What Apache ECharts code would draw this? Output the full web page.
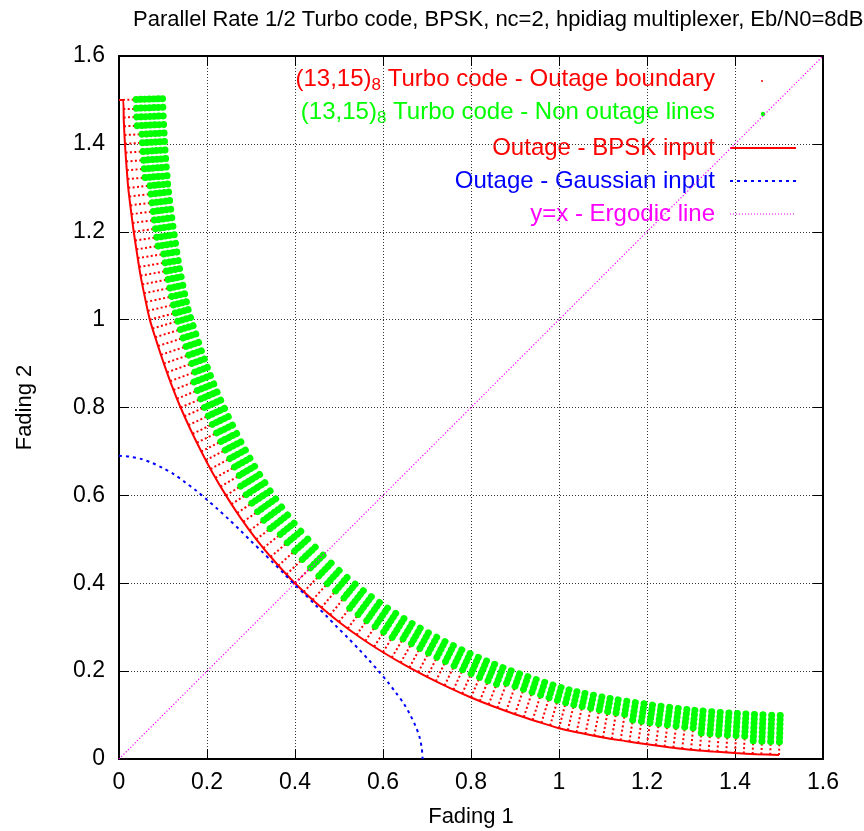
<!DOCTYPE html>
<html>
<head>
<meta charset="utf-8">
<title>Parallel Rate 1/2 Turbo code outage</title>
<script src="https://cdn.jsdelivr.net/npm/echarts@6/dist/echarts.min.js"></script>
<style>
  html, body { margin: 0; padding: 0; background: #ffffff; }
  #chart { width: 864px; height: 831px; }
</style>
</head>
<body>
<div id="chart"></div>
<script>
// ---- data -----------------------------------------------------------------
const titleText = 'Parallel Rate 1/2 Turbo code, BPSK, nc=2, hpidiag multiplexer, Eb/N0=8dB';
const xAxisName = 'Fading 1';
const yAxisName = 'Fading 2';
const tickValues = [0, 0.2, 0.4, 0.6, 0.8, 1, 1.2, 1.4, 1.6];
const tickLabels = ['0', '0.2', '0.4', '0.6', '0.8', '1', '1.2', '1.4', '1.6'];

const seriesNames = [
  '(13,15){s|8} Turbo code - Outage boundary',
  '(13,15){s|8} Turbo code - Non outage lines',
  'Outage - BPSK input',
  'Outage - Gaussian input',
  'y=x - Ergodic line'
];

// Each scan line runs from the BPSK outage curve outwards:
// outageStart -> outageBoundary are outage points, outageBoundary -> nonOutageEnd are not.
const outageStart = [
  [0.009,1.50],[0.0098,1.48],[0.0105,1.46],[0.0114,1.44],[0.0124,1.42],[0.0135,1.40],[0.0148,1.38],[0.0162,1.36],
  [0.0177,1.34],[0.0194,1.32],[0.021,1.30],[0.0233,1.28],[0.0257,1.26],[0.0282,1.24],[0.0308,1.22],[0.0335,1.20],
  [0.0364,1.18],[0.0394,1.16],[0.0425,1.14],[0.0457,1.12],[0.049,1.10],[0.0529,1.08],[0.0569,1.06],[0.0611,1.04],
  [0.0655,1.02],[0.07,1.00],[0.0761,0.98],[0.0823,0.96],[0.0888,0.94],[0.0954,0.92],[0.102,0.90],[0.1091,0.88],
  [0.1163,0.86],[0.1239,0.84],[0.1318,0.82],[0.14,0.80],[0.1488,0.78],[0.1578,0.76],[0.1673,0.74],[0.1771,0.72],
  [0.187,0.70],[0.1974,0.68],[0.2081,0.66],[0.2192,0.64],[0.2308,0.62],[0.243,0.60],[0.2556,0.58],[0.2687,0.56],
  [0.2825,0.54],[0.297,0.52],[0.312,0.50],[0.328,0.48],[0.3445,0.46],[0.362,0.44],[0.3805,0.42],[0.40,0.40],
  [0.42,0.3805],[0.44,0.362],[0.46,0.3445],[0.48,0.328],[0.50,0.312],[0.52,0.297],[0.54,0.2825],[0.56,0.2687],
  [0.58,0.2556],[0.60,0.243],[0.62,0.2308],[0.64,0.2192],[0.66,0.2081],[0.68,0.1974],[0.70,0.187],[0.72,0.1771],
  [0.74,0.1673],[0.76,0.1578],[0.78,0.1488],[0.80,0.14],[0.82,0.1318],[0.84,0.1239],[0.86,0.1163],[0.88,0.1091],
  [0.90,0.102],[0.92,0.0954],[0.94,0.0888],[0.96,0.0823],[0.98,0.0761],[1.00,0.07],[1.02,0.0655],[1.04,0.0611],
  [1.06,0.0569],[1.08,0.0529],[1.10,0.049],[1.12,0.0457],[1.14,0.0425],[1.16,0.0394],[1.18,0.0364],[1.20,0.0335],
  [1.22,0.0308],[1.24,0.0282],[1.26,0.0257],[1.28,0.0233],[1.30,0.021],[1.32,0.0194],[1.34,0.0177],[1.36,0.0162],
  [1.38,0.0148],[1.40,0.0135],[1.42,0.0124],[1.44,0.0114],[1.46,0.0105],[1.48,0.0098],[1.50,0.009]
];

const outageBoundary = [
  [0.039,1.501],[0.0398,1.481],[0.0405,1.4612],[0.0414,1.4414],[0.0524,1.4221],[0.0534,1.4024],[0.0547,1.3827],[0.0561,1.3629],
  [0.0576,1.3432],[0.0593,1.3233],[0.0708,1.3049],[0.073,1.2858],[0.0753,1.2661],[0.0778,1.2463],[0.0804,1.2266],[0.083,1.2069],
  [0.0859,1.1873],[0.0888,1.1675],[0.1018,1.1493],[0.1049,1.1296],[0.1081,1.1106],[0.1118,1.0916],[0.1157,1.072],[0.1198,1.0526],
  [0.1239,1.0337],[0.1281,1.0151],[0.1338,0.9964],[0.1397,0.9775],[0.1459,0.9583],[0.1524,0.9388],[0.1588,0.9194],[0.1656,0.9002],
  [0.1726,0.8808],[0.1705,0.8581],[0.1782,0.8387],[0.186,0.8196],[0.1945,0.8003],[0.2032,0.781],[0.2123,0.7617],[0.222,0.7421],
  [0.2316,0.7226],[0.2416,0.7033],[0.252,0.6839],[0.2627,0.6647],[0.2738,0.6456],[0.277,0.6211],[0.2893,0.6016],[0.3019,0.5823],
  [0.3152,0.5631],[0.3292,0.5437],[0.3436,0.5245],[0.3668,0.5115],[0.3826,0.4924],[0.3992,0.4735],[0.4168,0.4544],[0.4354,0.4354],
  [0.4544,0.4168],[0.4735,0.3992],[0.4924,0.3826],[0.5115,0.3668],[0.5245,0.3436],[0.5437,0.3292],[0.5631,0.3152],[0.5823,0.3019],
  [0.6016,0.2893],[0.6211,0.277],[0.6456,0.2738],[0.6647,0.2627],[0.6839,0.252],[0.7033,0.2416],[0.7226,0.2316],[0.7421,0.222],
  [0.7617,0.2123],[0.781,0.2032],[0.8003,0.1945],[0.8196,0.186],[0.8387,0.1782],[0.8581,0.1705],[0.8808,0.1726],[0.9002,0.1656],
  [0.9194,0.1588],[0.9388,0.1524],[0.9583,0.1459],[0.9775,0.1397],[0.9964,0.1338],[1.0151,0.1281],[1.0337,0.1239],[1.0526,0.1198],
  [1.072,0.1157],[1.0916,0.1118],[1.1106,0.1081],[1.1296,0.1049],[1.1493,0.1018],[1.1675,0.0888],[1.1873,0.0859],[1.2069,0.083],
  [1.2266,0.0804],[1.2463,0.0778],[1.2661,0.0753],[1.2858,0.073],[1.3049,0.0708],[1.3233,0.0593],[1.3432,0.0576],[1.3629,0.0561],
  [1.3827,0.0547],[1.4024,0.0534],[1.4221,0.0524],[1.4414,0.0414],[1.4612,0.0405],[1.481,0.0398],[1.501,0.039]
];

const nonOutageEnd = [
  [0.102,1.503],[0.1027,1.4835],[0.1034,1.4637],[0.1043,1.4444],[0.1053,1.4249],[0.1063,1.4056],[0.1076,1.3863],[0.109,1.3667],
  [0.1104,1.3474],[0.1121,1.3276],[0.1136,1.309],[0.1157,1.2909],[0.118,1.2713],[0.1205,1.2518],[0.123,1.2322],[0.1256,1.2129],
  [0.1284,1.1936],[0.1313,1.174],[0.1344,1.1545],[0.1375,1.1349],[0.1405,1.1165],[0.1441,1.098],[0.148,1.0787],[0.152,1.0595],
  [0.156,1.0413],[0.16,1.0234],[0.1655,1.0055],[0.1713,0.9871],[0.1774,0.9683],[0.1837,0.9491],[0.19,0.9301],[0.1967,0.9113],
  [0.2035,0.8923],[0.2106,0.8736],[0.2181,0.8547],[0.2256,0.8364],[0.2338,0.8178],[0.2422,0.799],[0.2511,0.7804],[0.2605,0.7611],
  [0.2699,0.7421],[0.2797,0.7234],[0.2898,0.7045],[0.3001,0.6859],[0.3107,0.6676],[0.322,0.649],[0.3338,0.6303],[0.3459,0.6119],
  [0.3584,0.5937],[0.3718,0.5752],[0.3855,0.557],[0.4002,0.5386],[0.4154,0.5202],[0.4311,0.5022],[0.4479,0.484],[0.4658,0.4658],
  [0.484,0.4479],[0.5022,0.4311],[0.5202,0.4154],[0.5386,0.4002],[0.557,0.3855],[0.5752,0.3718],[0.5937,0.3584],[0.6119,0.3459],
  [0.6303,0.3338],[0.649,0.322],[0.6676,0.3107],[0.6859,0.3001],[0.7045,0.2898],[0.7234,0.2797],[0.7421,0.2699],[0.7611,0.2605],
  [0.7804,0.2511],[0.799,0.2422],[0.8178,0.2338],[0.8364,0.2256],[0.8547,0.2181],[0.8736,0.2106],[0.8923,0.2035],[0.9113,0.1967],
  [0.9301,0.19],[0.9491,0.1837],[0.9683,0.1774],[0.9871,0.1713],[1.0055,0.1655],[1.0234,0.16],[1.0413,0.156],[1.0595,0.152],
  [1.0787,0.148],[1.098,0.1441],[1.1165,0.1405],[1.1349,0.1375],[1.1545,0.1344],[1.174,0.1313],[1.1936,0.1284],[1.2129,0.1256],
  [1.2322,0.123],[1.2518,0.1205],[1.2713,0.118],[1.2909,0.1157],[1.309,0.1136],[1.3276,0.1121],[1.3474,0.1104],[1.3667,0.109],
  [1.3863,0.1076],[1.4056,0.1063],[1.4249,0.1053],[1.4444,0.1043],[1.4637,0.1034],[1.4835,0.1027],[1.503,0.102]
];

// Outage boundary for BPSK input
const bpskOutage = [
  [0,1.50],[0.009,1.50],[0.011,1.45],[0.0135,1.40],[0.017,1.35],[0.021,1.30],[0.027,1.25],[0.0335,1.20],
  [0.041,1.15],[0.049,1.10],[0.059,1.05],[0.070,1.00],[0.0855,0.95],[0.102,0.90],[0.120,0.85],[0.140,0.80],
  [0.1625,0.75],[0.187,0.70],[0.2135,0.65],[0.243,0.60],[0.2755,0.55],[0.312,0.50],[0.3535,0.45],[0.40,0.40],
  [0.45,0.3535],[0.50,0.312],[0.55,0.2755],[0.60,0.243],[0.65,0.2135],[0.70,0.187],[0.75,0.1625],[0.80,0.140],
  [0.85,0.120],[0.90,0.102],[0.95,0.0855],[1.00,0.070],[1.05,0.059],[1.10,0.049],[1.15,0.041],[1.20,0.0335],
  [1.25,0.027],[1.30,0.021],[1.35,0.017],[1.40,0.0135],[1.45,0.011],[1.50,0.009]
];

// Outage boundary for Gaussian input
const gaussianOutage = [
  [0,0.690],[0.025,0.688],[0.05,0.683],[0.075,0.674],[0.1,0.662],[0.125,0.648],[0.15,0.630],[0.175,0.611],
  [0.2,0.590],[0.225,0.568],[0.25,0.545],[0.275,0.521],[0.3,0.496],[0.325,0.472],[0.35,0.447],[0.375,0.422],
  [0.398,0.398],[0.422,0.375],[0.447,0.35],[0.472,0.325],[0.496,0.3],[0.521,0.275],[0.545,0.25],[0.568,0.225],
  [0.590,0.2],[0.611,0.175],[0.630,0.15],[0.648,0.125],[0.662,0.1],[0.674,0.075],[0.683,0.05],[0.688,0.025],[0.690,0]
];

// Ergodic line y = x
const ergodicLine = [[0,0],[1.6,1.6]];

// ---- styling --------------------------------------------------------------
const FONT = '"Liberation Sans", Arial, Helvetica, sans-serif';
const FS_TITLE = 22, FS_TICK = 23, FS_NAME = 22, FS_KEY = 24;
const RED = '#ff0000', GREEN = '#00ff00', BLUE = '#0000ff', MAGENTA = '#ff00ff';

const chart = echarts.init(document.getElementById('chart'), null, { renderer: 'canvas' });

function tickText(v) {
  const i = tickValues.findIndex(t => Math.abs(t - v) < 1e-9);
  return i >= 0 ? tickLabels[i] : '';
}

function axisPair(dim, name) {
  const primary = {
    type: 'value', min: 0, max: 1.6, interval: 0.2,
    position: dim === 'x' ? 'bottom' : 'left',
    axisLine: { show: true, onZero: false, lineStyle: { color: '#000', width: 2 } },
    axisTick: { show: true, inside: true, length: 10, lineStyle: { color: '#000', width: 1 } },
    axisLabel: { show: true, color: '#000', fontSize: FS_TICK, fontFamily: FONT, margin: dim === 'x' ? 12 : 14, formatter: tickText },
    splitLine: { show: true, lineStyle: { color: '#333', width: 1, type: [1, 2] } },
    name: name, nameLocation: 'middle', nameGap: dim === 'x' ? 47 : 83,
    nameTextStyle: { color: '#000', fontSize: FS_NAME, fontFamily: FONT }
  };
  const mirror = {
    type: 'value', min: 0, max: 1.6, interval: 0.2,
    position: dim === 'x' ? 'top' : 'right',
    axisLine: { show: true, onZero: false, lineStyle: { color: '#000', width: 2 } },
    axisTick: { show: true, inside: true, length: 10, lineStyle: { color: '#000', width: 1 } },
    axisLabel: { show: false },
    splitLine: { show: false }
  };
  return [primary, mirror];
}

const richSub = (color) => ({ s: { fontSize: 17, fontFamily: FONT, fill: color, padding: [12, 0, 0, 0] } });

// legend rows: text right-aligned, sample drawn to the right
const LEG_X = 715, SAMPLE_X1 = 730, SAMPLE_X2 = 796;
const legendRows = [
  { y: 79,  color: RED },
  { y: 112, color: GREEN },
  { y: 148, color: RED },
  { y: 181, color: BLUE },
  { y: 214, color: MAGENTA }
];

const graphic = [];
legendRows.forEach((row, i) => {
  graphic.push({
    type: 'text', x: LEG_X, y: row.y, silent: true,
    style: {
      text: seriesNames[i], fill: row.color, fontSize: FS_KEY, fontFamily: FONT,
      align: 'right', verticalAlign: 'middle', rich: richSub(row.color)
    }
  });
});
graphic.push(
  { type: 'circle', silent: true, shape: { cx: 762, cy: 81, r: 1 }, style: { fill: RED } },
  { type: 'circle', silent: true, shape: { cx: 763, cy: 114, r: 2.2 }, style: { fill: GREEN } },
  { type: 'line', silent: true, shape: { x1: SAMPLE_X1, y1: 148, x2: SAMPLE_X2, y2: 148 }, style: { stroke: RED, lineWidth: 2 } },
  { type: 'line', silent: true, shape: { x1: SAMPLE_X1, y1: 181, x2: SAMPLE_X2, y2: 181 }, style: { stroke: BLUE, lineWidth: 2, lineDash: [3, 4] } },
  { type: 'line', silent: true, shape: { x1: SAMPLE_X1, y1: 214, x2: SAMPLE_X2, y2: 214 }, style: { stroke: MAGENTA, lineWidth: 1, lineDash: [1, 2] } }
);

const xs = axisPair('x', xAxisName);
const ys = axisPair('y', yAxisName);

const option = {
  backgroundColor: '#ffffff',
  animation: false,
  title: {
    text: titleText, left: 128, top: 4,
    textStyle: { color: '#000', fontSize: FS_TITLE, fontWeight: 'normal', fontFamily: FONT }
  },
  grid: { left: 119, top: 56, width: 704, height: 703, containLabel: false, outerBoundsMode: 'none' },
  xAxis: xs,
  yAxis: ys,
  graphic: graphic,
  series: [
    {
      name: 'outage', type: 'lines', coordinateSystem: 'cartesian2d', xAxisIndex: 0, yAxisIndex: 0,
      silent: true, polyline: false,
      lineStyle: { color: RED, width: 2, type: [2, 2.4], cap: 'butt', opacity: 1, curveness: 0 },
      data: outageStart.map((p, i) => ({ coords: [p, outageBoundary[i]] }))
    },
    {
      // non-outage points: a chain of round beads one scan step apart
      name: 'nonOutage', type: 'lines', coordinateSystem: 'cartesian2d', xAxisIndex: 0, yAxisIndex: 0,
      silent: true, polyline: false,
      lineStyle: { color: GREEN, width: 7, type: [0.001, 4.4], cap: 'round', opacity: 1, curveness: 0 },
      data: outageBoundary.map((p, i) => ({ coords: [p, nonOutageEnd[i]] }))
    },
    {
      name: 'bpsk', type: 'line', xAxisIndex: 0, yAxisIndex: 0, data: bpskOutage,
      showSymbol: false, smooth: 0.3, silent: true,
      lineStyle: { color: RED, width: 2 }
    },
    {
      name: 'gaussian', type: 'line', xAxisIndex: 0, yAxisIndex: 0, data: gaussianOutage,
      showSymbol: false, smooth: 0.3, silent: true,
      lineStyle: { color: BLUE, width: 2, type: [3, 4] }
    },
    {
      name: 'ergodic', type: 'lines', coordinateSystem: 'cartesian2d', xAxisIndex: 0, yAxisIndex: 0,
      silent: true, polyline: false, z: 5,
      lineStyle: { color: MAGENTA, width: 1.2, type: [1.2, 2], opacity: 1, curveness: 0 },
      data: [{ coords: ergodicLine }]
    }
  ]
};

chart.setOption(option);
</script>
</body>
</html>
